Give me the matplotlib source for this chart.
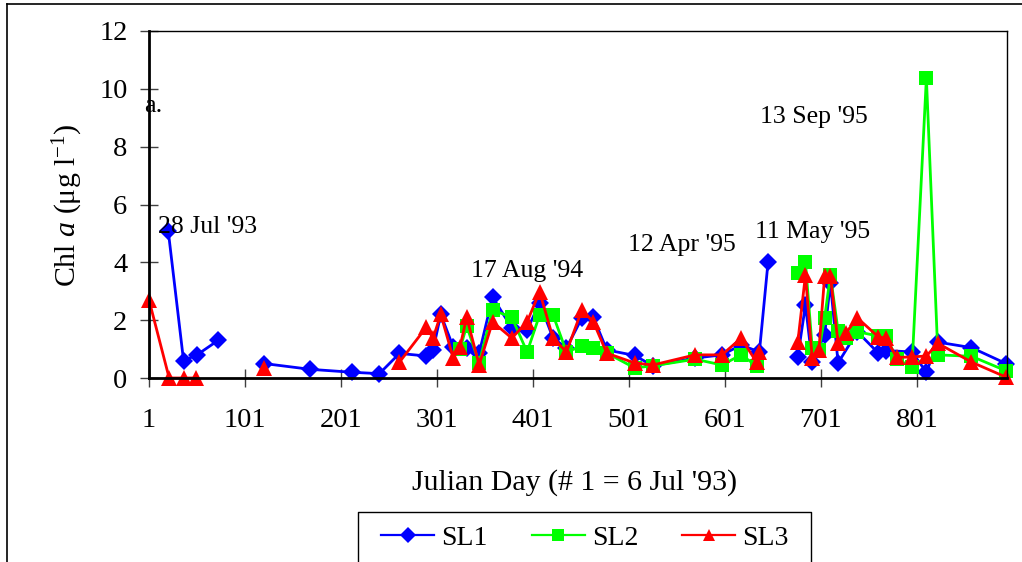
import numpy as np
import matplotlib
matplotlib.use('Agg')
import matplotlib.pyplot as plt
from matplotlib.lines import Line2D

plt.rcParams['font.family'] = ['Liberation Serif', 'DejaVu Serif']
plt.rcParams['mathtext.fontset'] = 'custom'
plt.rcParams['mathtext.rm'] = 'Liberation Serif'
plt.rcParams['mathtext.it'] = 'Liberation Serif:italic'

nan = np.nan

# SL1 (blue diamonds)
days1 = [21, 37, 51, 73, nan, 121, 169, 212, 241, 262, 290, 297, 305, 318, 332,
         345, 359, 379, 395, 408, 422, 436, 452, 464, 478, 507, 526, 570, 598, 618,
         637, 646, nan, 677, 685, 692, 705, 711, 719, 739, 761, 769, 796, 811, 823,
         858, 894]
chl1 = [5.1, 0.6, 0.8, 1.3, nan, 0.5, 0.3, 0.2, 0.15, 0.85, 0.76, 0.97, 2.2, 1.07, 1.05,
        0.85, 2.8, 1.73, 1.66, 2.6, 1.38, 1.04, 2.07, 2.1, 0.97, 0.78, 0.42, 0.69, 0.8, 1.14,
        0.9, 4.0, nan, 0.73, 2.53, 0.55, 1.5, 3.3, 0.52, 1.6, 0.86, 0.95, 0.9, 0.2, 1.24,
        1.05, 0.5]

# SL2 (green squares)
days2 = [325, 332, 345, 359, 379, 395, 408, 422, 436, 452, 464, 478, 507, 526, 570,
         598, 618, 634, nan, 677, 685, 692, 699, 705, 711, 719, 727, 739, 761, 769,
         780, 796, 811, 823, 858, 894]
chl2 = [1.0, 1.8, 0.52, 2.35, 2.1, 0.9, 2.18, 2.18, 0.9, 1.1, 1.04, 0.86, 0.35, 0.42, 0.65,
        0.45, 0.8, 0.42, nan, 3.63, 4.0, 1.05, 0.97, 2.08, 3.56, 1.63, 1.4, 1.6, 1.45, 1.45,
        0.66, 0.38, 10.38, 0.8, 0.75, 0.25]

# SL3 (red triangles)
days3 = [1, 22, 37, 50, nan, 121, nan, 262, 290, 297, 305, 318, 325, 332, 345,
         359, 379, 395, 408, 422, 436, 452, 464, 478, 507, 526, 570, 598, 618, 634,
         637, nan, 677, 685, 692, 699, 705, 711, 719, 727, 739, 761, 769, 780, 796,
         811, 823, 858, 894]
chl3 = [2.7, 0, 0, 0, nan, 0.35, nan, 0.55, 1.76, 1.38, 2.2, 0.69, 1.07, 2.1, 0.45,
        1.94, 1.38, 1.94, 2.98, 1.38, 0.9, 2.35, 1.94, 0.86, 0.52, 0.45, 0.8, 0.8, 1.38, 0.55,
        0.9, nan, 1.24, 3.56, 0.69, 0.97, 3.53, 3.53, 1.2, 1.55, 2.08, 1.42, 1.38, 0.71, 0.73,
        0.76, 1.2, 0.55, 0.03]

series_names = ['SL1', 'SL2', 'SL3']
x_ticks = [1, 101, 201, 301, 401, 501, 601, 701, 801]
y_ticks = [0, 2, 4, 6, 8, 10, 12]

# event labels: (text, day, value)
events = [("28 Jul '93", 10, 5.0),
          ("17 Aug '94", 337, 3.5),
          ("12 Apr '95", 500, 4.38),
          ("11 May '95", 632, 4.84),
          ("13 Sep '95", 638, 8.82)]

fig = plt.figure(figsize=(10.22, 5.62), dpi=100)
ax = fig.add_axes([149 / 1022, 1 - 378 / 562, (1007 - 149) / 1022, (378 - 31) / 562])

styles = [('#0000FF', 'D', 9.0), ('#00FF00', 's', 9.5), ('#FF0000', '^', 11.0)]
data = [(days1, chl1), (days2, chl2), (days3, chl3)]
for (d, v), (col, mk, ms) in zip(data, styles):
    ax.plot(d, v, color=col, marker=mk, markersize=ms, linewidth=2,
            markeredgewidth=0, clip_on=False)

ax.set_xlim(1, 895)
ax.set_ylim(0, 12)
ax.set_xticks(x_ticks)
ax.set_yticks(y_ticks)
ax.tick_params(axis='both', direction='inout', length=13, width=1,
               color='#404040', labelsize=20.5)
ax.tick_params(axis='y', pad=9)
ax.tick_params(axis='x', pad=15)
ax.spines['left'].set_linewidth(2)
ax.spines['bottom'].set_linewidth(2)
ax.spines['top'].set_linewidth(1)
ax.spines['right'].set_linewidth(1)

ax.text(-4, 9.2, 'a.', fontsize=19, ha='left', va='baseline')
for txt, dx, dy in events:
    ax.text(dx, dy, txt, fontsize=18.5, ha='left', va='baseline')

fig.text(575 / 1022, 1 - 483 / 562, "Julian Day (# 1 = 6 Jul '93)",
         fontsize=21.5, ha='center', va='center')
fig.text(68 / 1022, 1 - 205 / 562, r'Chl $\it{a}$ (μg l$^{-1}$)',
         fontsize=21.5, ha='center', va='center', rotation=90)

# outer frame (cut off at right and bottom)
fig.add_artist(Line2D([7 / 1022, 7 / 1022], [1 - 4 / 562, 0], color='black', lw=1.2))
fig.add_artist(Line2D([7 / 1022, 1], [1 - 4 / 562, 1 - 4 / 562], color='black', lw=1.2))

# legend box, also running past the bottom edge
lx0, lx1, ly0 = 358 / 1022, 811 / 1022, 1 - 512 / 562
fig.add_artist(Line2D([lx0, lx0, lx1, lx1], [0, ly0, ly0, 0], color='black', lw=1))
handles = [Line2D([], [], color=c, marker=m, markersize=s * 0.85, markeredgewidth=0, lw=1.6)
           for c, m, s in styles]
fig.legend(handles, series_names, loc='center', bbox_to_anchor=(585 / 1022, 1 - 538 / 562),
           ncol=3, frameon=False, fontsize=20, handlelength=1.9, handletextpad=0.25,
           columnspacing=1.6, borderpad=0)

fig.savefig('out.png', dpi=100)
